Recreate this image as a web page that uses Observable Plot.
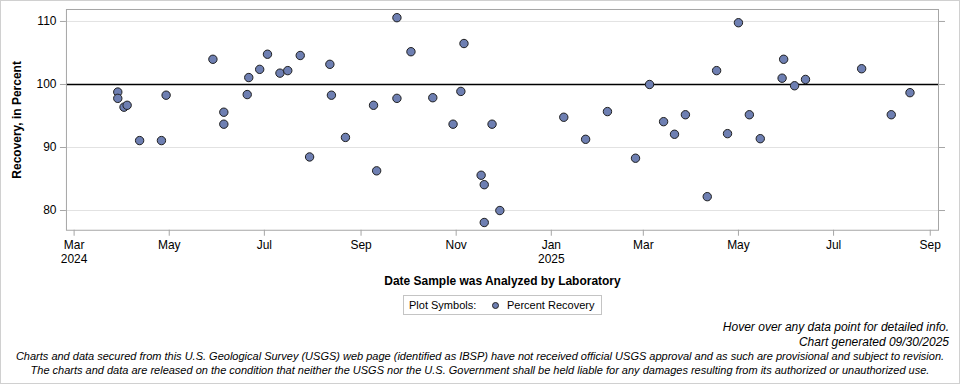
<!DOCTYPE html>
<html>
<head>
<meta charset="utf-8">
<script src="https://cdn.jsdelivr.net/npm/d3@7"></script>
<script src="https://cdn.jsdelivr.net/npm/@observablehq/plot@0.6"></script>
<style>
  body { margin: 0; background: #fff; }
  #wrap { position: relative; width: 960px; height: 384px; box-sizing: border-box; border: 1px solid #d0d0d0; font-family: "Liberation Sans", Arial, sans-serif; color: #000; overflow: hidden; }
  #chart { position: absolute; left: -1px; top: -1px; }
  .abs { position: absolute; white-space: nowrap; }
  #legend { left: 402px; top: 294px; width: 197px; height: 18px; border: 1px solid #c4c4c4; font-size: 11px; line-height: 18px; }
  #legend .lab { position: absolute; left: 5px; }
  #legend .sym { position: absolute; left: 88px; top: 6px; width: 7px; height: 7px; border-radius: 50%; background: #6e7fb2; border: 1px solid #222; box-sizing: border-box; }
  #legend .name { position: absolute; left: 103px; }
  .foot { font-style: italic; }
</style>
</head>
<body>
<div id="wrap">
  <div id="chart"></div>
  <div id="legend" class="abs"><span class="lab">Plot Symbols:</span><span class="sym"></span><span class="name">Percent Recovery</span></div>
  <div class="abs foot" style="right:10px; top:319px; font-size:12px;">Hover over any data point for detailed info.</div>
  <div class="abs foot" style="right:10px; top:334px; font-size:12px;">Chart generated 09/30/2025</div>
  <div class="abs foot" style="left:0; width:958px; text-align:center; top:348px; font-size:11px; line-height:14px;">Charts and data secured from this U.S. Geological Survey (USGS) web page (identified as IBSP) have not received official USGS approval and as such are provisional and subject to revision.<br>The charts and data are released on the condition that neither the USGS nor the U.S. Government shall be held liable for any damages resulting from its authorized or unauthorized use.</div>
</div>
<script>
// Sample analysis dates
const dates = [
  "2024-03-29","2024-03-29","2024-04-02","2024-04-04","2024-04-12","2024-04-26","2024-04-29",
  "2024-05-29","2024-06-05","2024-06-05","2024-06-20","2024-06-21","2024-06-28","2024-07-03",
  "2024-07-11","2024-07-16","2024-07-24","2024-07-30","2024-08-12","2024-08-13","2024-08-22",
  "2024-09-09","2024-09-11","2024-09-24","2024-09-24","2024-10-03","2024-10-17","2024-10-30",
  "2024-11-04","2024-11-06","2024-11-17","2024-11-19","2024-11-19","2024-11-24","2024-11-29",
  "2025-01-09","2025-01-23","2025-02-06","2025-02-24","2025-03-05","2025-03-14","2025-03-21",
  "2025-03-28","2025-04-11","2025-04-17","2025-04-24","2025-05-01","2025-05-08","2025-05-15",
  "2025-05-29","2025-05-30","2025-06-06","2025-06-13","2025-07-19","2025-08-07","2025-08-19"
];
// Percent recovery values
const recovery = [
  98.8, 97.8, 96.4, 96.7, 91.1, 91.1, 98.3,
  104.0, 95.6, 93.7, 98.4, 101.1, 102.4, 104.8,
  101.8, 102.2, 104.6, 88.5, 103.2, 98.3, 91.6,
  96.7, 86.3, 110.6, 97.8, 105.2, 97.9, 93.7,
  98.9, 106.5, 85.6, 84.1, 78.1, 93.7, 80.0,
  94.8, 91.3, 95.7, 88.3, 100.0, 94.1, 92.1,
  95.2, 82.2, 102.2, 92.2, 109.8, 95.2, 91.4,
  101.0, 104.0, 99.8, 100.8, 102.5, 95.2, 98.7
];
const yTicks = [80, 90, 100, 110];
const referenceLine = [100];
const gridValues = [80, 90, 110];
const xTickDates = ["2024-03-01","2024-05-01","2024-07-01","2024-09-01","2024-11-01","2025-01-01","2025-03-01","2025-05-01","2025-07-01","2025-09-01"];
const xTickLabels = ["Mar\n2024","May","Jul","Sep","Nov","Jan\n2025","Mar","May","Jul","Sep"];
const xLabel = "Date Sample was Analyzed by Laboratory";
const yLabel = "Recovery, in Percent";

const data = dates.map((d, i) => ({date: new Date(d + "T00:00Z"), value: recovery[i]}));
const xTicks = xTickDates.map(d => new Date(d + "T00:00Z"));
const labelOf = new Map(xTicks.map((d, i) => [+d, xTickLabels[i]]));

const chart = Plot.plot({
  width: 960,
  height: 290,
  marginTop: 9,
  marginLeft: 66,
  marginRight: 21,
  marginBottom: 60,
  style: {fontFamily: "'Liberation Sans', Arial, sans-serif", fontSize: "12px", background: "transparent", overflow: "visible"},
  x: {type: "utc", domain: [new Date("2024-02-25T02:00Z"), new Date("2025-09-06T07:00Z")]},
  y: {domain: [76.87, 111.9]},
  marks: [
    Plot.gridY(gridValues, {stroke: "#e2e2e2", strokeOpacity: 1}),
    Plot.ruleY(referenceLine, {stroke: "#000", strokeWidth: 1.3}),
    Plot.frame({stroke: "#a6a6a6"}),
    Plot.axisY(yTicks, {anchor: "left", tickSize: 6, tickPadding: 4, stroke: "#a6a6a6", fill: "#000", fontSize: 12, label: null}),
    Plot.axisY(yTicks, {anchor: "right", tickSize: 6, tickFormat: () => "", stroke: "#a6a6a6", label: null}),
    Plot.axisX(xTicks, {anchor: "bottom", tickSize: 6, tickPadding: 3, stroke: "#a6a6a6", fill: "#000", fontSize: 12, lineHeight: 1.15, tickFormat: d => labelOf.get(+d), label: null}),
    Plot.dot(data, {x: "date", y: "value", r: 4.2, fill: "#6e7fb2", stroke: "#1e1e1e", strokeWidth: 1}),
    Plot.text([xLabel], {frameAnchor: "bottom", dy: 55, fontWeight: "bold", fontSize: 12, fill: "#000"}),
    Plot.text([yLabel], {frameAnchor: "left", dx: -49, rotate: -90, textAnchor: "middle", fontWeight: "bold", fontSize: 12, fill: "#000"})
  ]
});
document.getElementById("chart").append(chart);
</script>
</body>
</html>
